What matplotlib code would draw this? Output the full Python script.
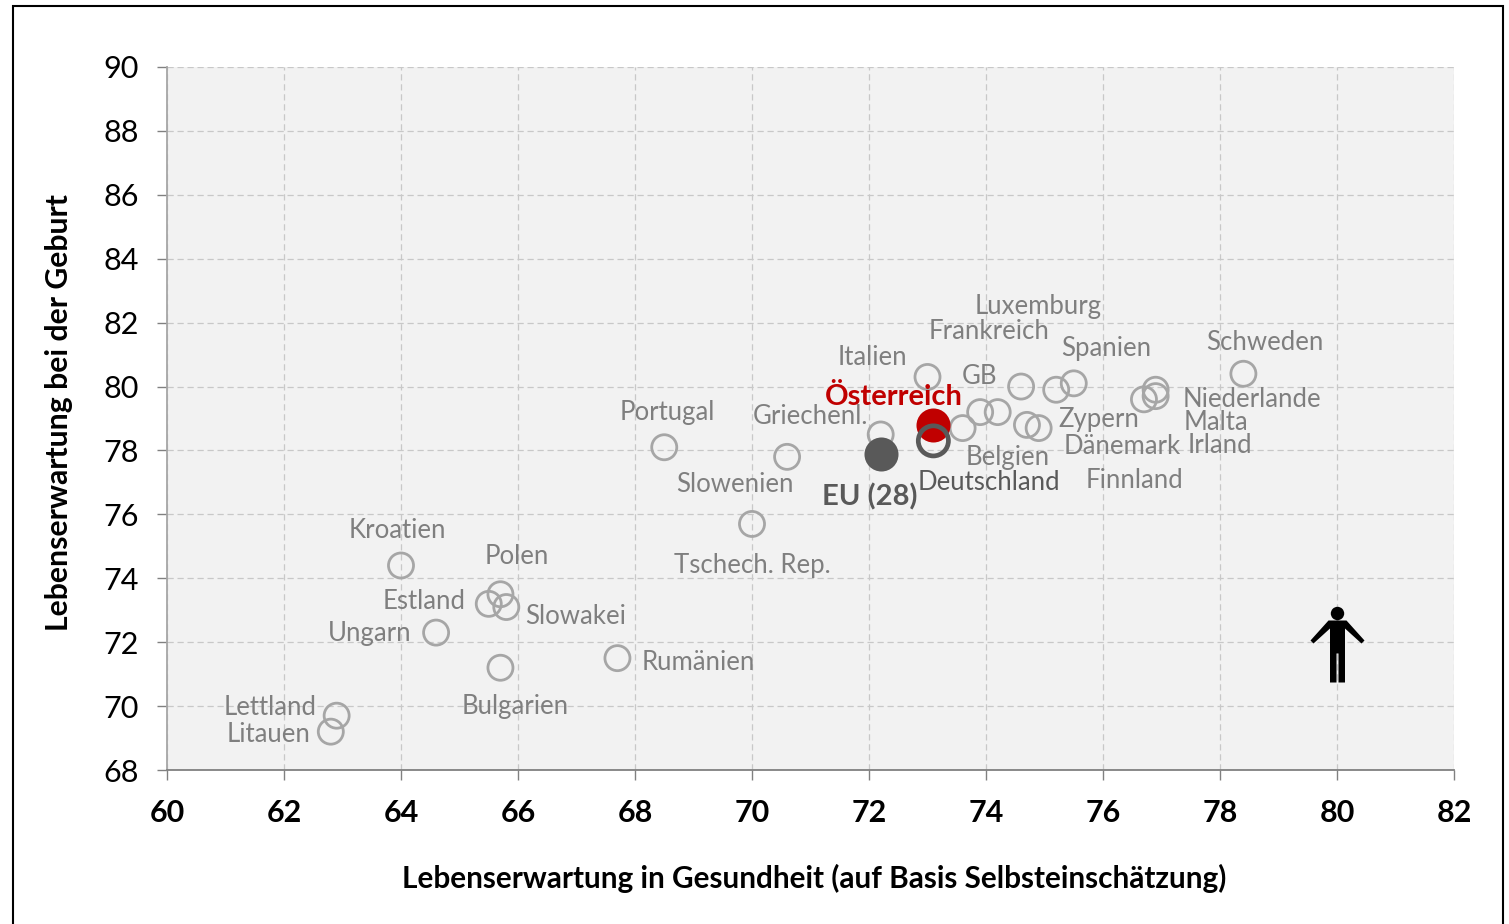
"""Lebenserwartung scatter: healthy life years vs life expectancy at birth, EU countries."""

import matplotlib

matplotlib.use("Agg")
import matplotlib.pyplot as plt
from matplotlib.patches import Rectangle
from matplotlib.path import Path

plt.rcParams["font.family"] = ["Lato", "DejaVu Sans"]

# ---- Data ----------------------------------------------------------
countries = [
    "Schweden", "Niederlande", "Malta", "Irland", "Finnland", "Dänemark", "Zypern",
    "Spanien", "Luxemburg", "Frankreich", "GB", "Belgien", "Italien", "Griechenl.",
    "Portugal", "Slowenien", "Tschech. Rep.", "Kroatien", "Polen", "Estland",
    "Slowakei", "Ungarn", "Bulgarien", "Rumänien", "Lettland", "Litauen",
]
healthy_years = [
    78.4, 76.9, 76.9, 76.7, 74.9, 74.7, 74.2,
    75.5, 75.2, 74.6, 73.9, 73.6, 73.0, 72.2,
    68.5, 70.6, 70.0, 64.0, 65.7, 65.5,
    65.8, 64.6, 65.7, 67.7, 62.9, 62.8,
]
life_expectancy = [
    80.4, 79.9, 79.7, 79.6, 78.7, 78.8, 79.2,
    80.1, 79.9, 80.0, 79.2, 78.7, 80.3, 78.5,
    78.1, 77.8, 75.7, 74.4, 73.5, 73.2,
    73.1, 72.3, 71.2, 71.5, 69.7, 69.2,
]
austria = (73.1, 78.8)
germany = (73.1, 78.3)
eu28 = (72.2, 77.9)
person_at = (80, 71.9)

x_ticks = list(range(60, 83, 2))
y_ticks = list(range(68, 91, 2))

# label offset from its marker, pixels
_OFFSET = {
    "Schweden": (21, 33), "Niederlande": (96, -8), "Malta": (60, -24), "Irland": (76, -44),
    "Finnland": (96, -50), "Dänemark": (95, -20), "Zypern": (101, -5), "Spanien": (32, 37),
    "Luxemburg": (-18, 85), "Frankreich": (-32, 57), "GB": (-1, 38), "Belgien": (45, -27),
    "Italien": (-55, 21), "Griechenl.": (-70, 20), "Portugal": (3, 37), "Slowenien": (-52, -26),
    "Tschech. Rep.": (0, -40), "Kroatien": (-4, 37), "Polen": (16, 40), "Estland": (-65, 4),
    "Slowakei": (69, -7), "Ungarn": (-66, 1), "Bulgarien": (15, -37), "Rumänien": (81, -2),
    "Lettland": (-67, 10), "Litauen": (-62, -1),
}

RING = "#a6a6a6"
LABEL = "#7f7f7f"
DARK = "#595959"
RED = "#c00000"
FS = 18.5

# ---- Figure --------------------------------------------------------
fig = plt.figure(figsize=(15.09, 9.24), dpi=100)
ax = fig.add_axes([167 / 1509, 154 / 924, 1287 / 1509, 703 / 924])
ax.set_facecolor("#f2f2f2")
ax.set_xlim(60, 82)
ax.set_ylim(68, 90)
ax.set_xticks(x_ticks)
ax.set_yticks(y_ticks)
ax.grid(True, ls=(0, (5, 3)), lw=0.9, color="#c8c8c8", zorder=0.5)
ax.set_axisbelow(True)
for side in ("top", "right"):
    ax.spines[side].set_visible(False)
ax.spines["left"].set_color(RING)
ax.spines["left"].set_linewidth(1.3)
ax.spines["bottom"].set_color("#808080")
ax.spines["bottom"].set_linewidth(1.3)
ax.tick_params(axis="both", length=7, width=1, color="#808080")
ax.tick_params(axis="y", labelsize=22, pad=13, labelcolor="black")
ax.tick_params(axis="x", labelsize=22, pad=14)
for t in ax.get_xticklabels():
    t.set_fontweight("bold")

ax.set_xlabel("Lebenserwartung in Gesundheit (auf Basis Selbsteinschätzung)",
              fontsize=21.4, fontweight="bold")
ax.xaxis.set_label_coords(0.503, -0.133, transform=ax.transAxes)
ax.set_ylabel("Lebenserwartung bei der Geburt", fontsize=21.7, fontweight="bold")
ax.yaxis.set_label_coords(-0.073, 0.508, transform=ax.transAxes)

# ---- Markers -------------------------------------------------------
ax.scatter(healthy_years, life_expectancy, s=325, facecolors="none",
           edgecolors=RING, linewidths=2.0, zorder=3, clip_on=False)
ax.scatter(*austria, s=600, color=RED, linewidths=0, zorder=4)
ax.scatter(*eu28, s=600, color=DARK, linewidths=0, zorder=4)
ax.scatter(*germany, s=470, facecolors="none", edgecolors=DARK, linewidths=3.4, zorder=5)

for name, hx, hy in zip(countries, healthy_years, life_expectancy):
    dx, dy = _OFFSET[name]
    ax.annotate(name, (hx, hy), xytext=(dx, dy - 2), textcoords="offset pixels",
                ha="center", va="center", fontsize=FS, color=LABEL, zorder=6)
ax.annotate("Österreich", austria, xytext=(-40, 28), textcoords="offset pixels",
            ha="center", va="center", fontsize=21, color=RED, fontweight="bold", zorder=6)
ax.annotate("EU (28)", eu28, xytext=(-11, -43), textcoords="offset pixels",
            ha="center", va="center", fontsize=21, color=DARK, fontweight="bold", zorder=6)
ax.annotate("Deutschland", germany, xytext=(56, -42), textcoords="offset pixels",
            ha="center", va="center", fontsize=FS, color=DARK, zorder=6)

# ---- Person icon (marker outline in pixels around its centre) ------
_body = [
    (-9, 25), (-27, 5), (-24, 2), (-7.5, 17), (-7.5, -37), (-1, -37), (-1, -8), (1, -8),
    (1, -37), (7.5, -37), (7.5, 17), (24, 2), (27, 5), (9, 25), (-9, 25),
]
_head = Path.circle((0, 32), 6.7)
person = Path.make_compound_path(Path(_body, closed=True), _head)
ax.plot(*person_at, marker=person, markersize=2 * 38.7 * 0.72, color="black",
        markeredgewidth=0, ls="none", zorder=6)

# ---- Outer frame ---------------------------------------------------
fig.add_artist(Rectangle((13 / 1509, -10 / 924), 1490 / 1509, 928 / 924, transform=fig.transFigure,
                         fill=False, edgecolor="black", linewidth=1.5, clip_on=False))

fig.savefig("out.png", dpi=100)
plt.close(fig)
